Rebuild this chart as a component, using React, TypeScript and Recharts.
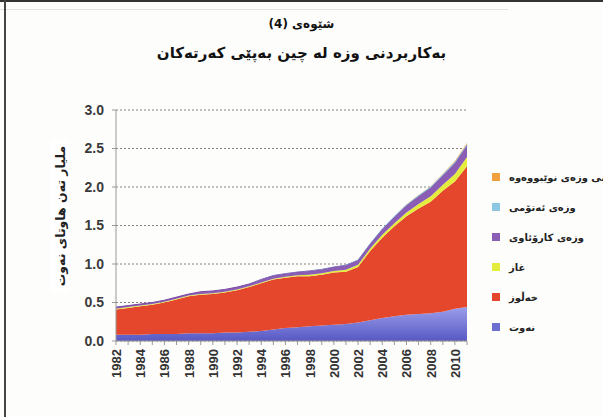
import { AreaChart, Area, XAxis, YAxis, CartesianGrid } from "recharts";

const years = [
  1982, 1983, 1984, 1985, 1986, 1987, 1988, 1989, 1990, 1991, 1992, 1993, 1994, 1995, 1996,
  1997, 1998, 1999, 2000, 2001, 2002, 2003, 2004, 2005, 2006, 2007, 2008, 2009, 2010, 2011,
];
// billion tonnes oil equivalent
const oil = [
  0.08, 0.08, 0.08, 0.09, 0.09, 0.09, 0.1, 0.1, 0.1, 0.11, 0.11, 0.12, 0.13, 0.15, 0.17,
  0.18, 0.19, 0.2, 0.21, 0.22, 0.24, 0.27, 0.3, 0.32, 0.34, 0.35, 0.36, 0.38, 0.42, 0.44,
];
const coal = [
  0.33, 0.35, 0.37, 0.38, 0.41, 0.45, 0.48, 0.5, 0.51, 0.52, 0.55, 0.58, 0.62, 0.65, 0.65,
  0.66, 0.65, 0.66, 0.68, 0.68, 0.72, 0.9, 1.04, 1.17, 1.28, 1.37, 1.45, 1.57, 1.65, 1.83,
];
const gas = [
  0.01, 0.01, 0.01, 0.01, 0.01, 0.01, 0.01, 0.01, 0.01, 0.01, 0.01, 0.01, 0.01, 0.01, 0.015,
  0.015, 0.02, 0.02, 0.02, 0.025, 0.03, 0.03, 0.04, 0.04, 0.05, 0.06, 0.07, 0.08, 0.1, 0.12,
];
const hydro = [
  0.02, 0.02, 0.02, 0.02, 0.02, 0.02, 0.02, 0.03, 0.03, 0.03, 0.03, 0.03, 0.04, 0.04, 0.04,
  0.04, 0.05, 0.05, 0.05, 0.06, 0.06, 0.06, 0.07, 0.08, 0.09, 0.1, 0.11, 0.12, 0.14, 0.15,
];
const nuclear = [
  0, 0, 0, 0, 0, 0, 0, 0, 0, 0, 0, 0, 0.003, 0.003, 0.003,
  0.003, 0.003, 0.004, 0.004, 0.004, 0.006, 0.01, 0.012, 0.012, 0.013, 0.014, 0.015, 0.016, 0.017, 0.02,
];
const renewables = [
  0, 0, 0, 0, 0, 0, 0, 0, 0, 0, 0, 0, 0, 0, 0,
  0, 0, 0, 0, 0, 0, 0, 0, 0.001, 0.002, 0.003, 0.005, 0.007, 0.01, 0.012,
];
const yTicks = [0, 0.5, 1, 1.5, 2, 2.5, 3];

const legendItems = [
  { label: "سەرچاوەکانی وزەی نوێبووەوە", color: "#f0a03c" },
  { label: "وزەی ئەتۆمی", color: "#8cc6e4" },
  { label: "وزەی کارۆئاوی", color: "#8c5db4" },
  { label: "غاز", color: "#e4ec3c" },
  { label: "خەڵوز", color: "#e4472b" },
  { label: "نەوت", color: "#6c6ed0" },
];

const data = years.map((year, i) => ({
  year,
  oil: oil[i],
  coal: coal[i],
  gas: gas[i],
  hydro: hydro[i],
  nuclear: nuclear[i],
  renewables: renewables[i],
}));

const arabicFont = "'DejaVu Sans', sans-serif";
const numFont = "'Liberation Sans', Arial, sans-serif";

const YearTick = ({ x, y, payload }: any) => {
  if (payload.value % 2 !== 0) return null;
  return (
    <text
      x={x + 5}
      y={y + 2}
      transform={`rotate(-90 ${x + 5} ${y + 2})`}
      textAnchor="end"
      fontSize={13}
      fontWeight="bold"
      fontFamily={numFont}
      fill="#333"
    >
      {payload.value}
    </text>
  );
};

export default function App() {
  return (
    <div style={{ position: "absolute", left: 0, top: 0, width: 603, height: 417, overflow: "hidden", background: "#fdfdfc" }}>
      <div style={{ position: "absolute", left: 0, top: 0, width: 603, height: 2, background: "#333" }} />
      <div style={{ position: "absolute", left: 0, top: 9, width: 508, height: 1, background: "#e2e2e2" }} />
      <div style={{ position: "absolute", left: 4, top: 0, width: 2, height: 417, background: "#444" }} />
      <div dir="rtl" style={{ position: "absolute", left: 0, width: 603, top: 17, textAlign: "center", fontFamily: arabicFont, fontWeight: "bold", fontSize: 12, color: "#111" }}>
        شێوەی (4)
      </div>
      <div dir="rtl" style={{ position: "absolute", left: 0, width: 603, top: 44, textAlign: "center", fontFamily: arabicFont, fontWeight: "bold", fontSize: 15, color: "#111" }}>
        بەکاربردنی وزە لە چین بەپێی کەرتەکان
      </div>
      <div
        dir="rtl"
        style={{
          position: "absolute", left: 60, top: 216, transform: "translate(-50%, -50%) rotate(-90deg)",
          whiteSpace: "nowrap", fontFamily: arabicFont, fontWeight: "bold", fontSize: 12.5, color: "#222",
          background: "#fff", padding: "2px 6px",
        }}
      >
        ملیار تەن هاوتای نەوت
      </div>
      <AreaChart
        width={603}
        height={417}
        data={data}
        margin={{ top: 110, right: 136, bottom: 26, left: 76 }}
        style={{ position: "absolute", left: 0, top: 0 }}
      >
        <defs>
          <linearGradient id="oilGrad" x1="0" y1="0" x2="0" y2="1">
            <stop offset="0%" stopColor="#9a9eea" />
            <stop offset="100%" stopColor="#5858c4" />
          </linearGradient>
        </defs>
        <CartesianGrid vertical={false} stroke="#8d827a" strokeDasharray="2 2" />
        <XAxis
          dataKey="year"
          interval={0}
          tick={<YearTick />}
          tickSize={4}
          tickMargin={2}
          height={50}
          axisLine={{ stroke: "#999" }}
          tickLine={{ stroke: "#999" }}
        />
        <YAxis
          domain={[0, 3]}
          ticks={yTicks}
          width={40}
          tickSize={4}
          tickMargin={8}
          tickFormatter={(v: number) => v.toFixed(1)}
          tick={{ fontSize: 14, fontWeight: "bold", fontFamily: numFont, fill: "#3a3a3a" }}
          axisLine={{ stroke: "#999" }}
          tickLine={{ stroke: "#999" }}
        />
        <Area type="linear" dataKey="oil" stackId="1" stroke="none" fill="url(#oilGrad)" fillOpacity={1} isAnimationActive={false} />
        <Area type="linear" dataKey="coal" stackId="1" stroke="none" fill="#e4472b" fillOpacity={1} isAnimationActive={false} />
        <Area type="linear" dataKey="gas" stackId="1" stroke="none" fill="#e4ec3c" fillOpacity={1} isAnimationActive={false} />
        <Area type="linear" dataKey="hydro" stackId="1" stroke="#7a4aa4" strokeWidth={1} fill="#8c5db4" fillOpacity={1} isAnimationActive={false} />
        <Area type="linear" dataKey="nuclear" stackId="1" stroke="none" fill="#8cc6e4" fillOpacity={1} isAnimationActive={false} />
        <Area type="linear" dataKey="renewables" stackId="1" stroke="none" fill="#f0a03c" fillOpacity={1} isAnimationActive={false} />
      </AreaChart>
      <div style={{ position: "absolute", left: 492, top: 162, width: 111, overflow: "hidden" }}>
        {legendItems.map((it) => (
          <div key={it.label} style={{ height: 30, display: "flex", alignItems: "center", whiteSpace: "nowrap" }}>
            <span style={{ width: 8, height: 8, background: it.color, display: "inline-block", marginRight: 9, flex: "none" }} />
            <span dir="rtl" style={{ fontFamily: arabicFont, fontSize: 10, fontWeight: "bold", color: "#222" }}>
              {it.label}
            </span>
          </div>
        ))}
      </div>
    </div>
  );
}
